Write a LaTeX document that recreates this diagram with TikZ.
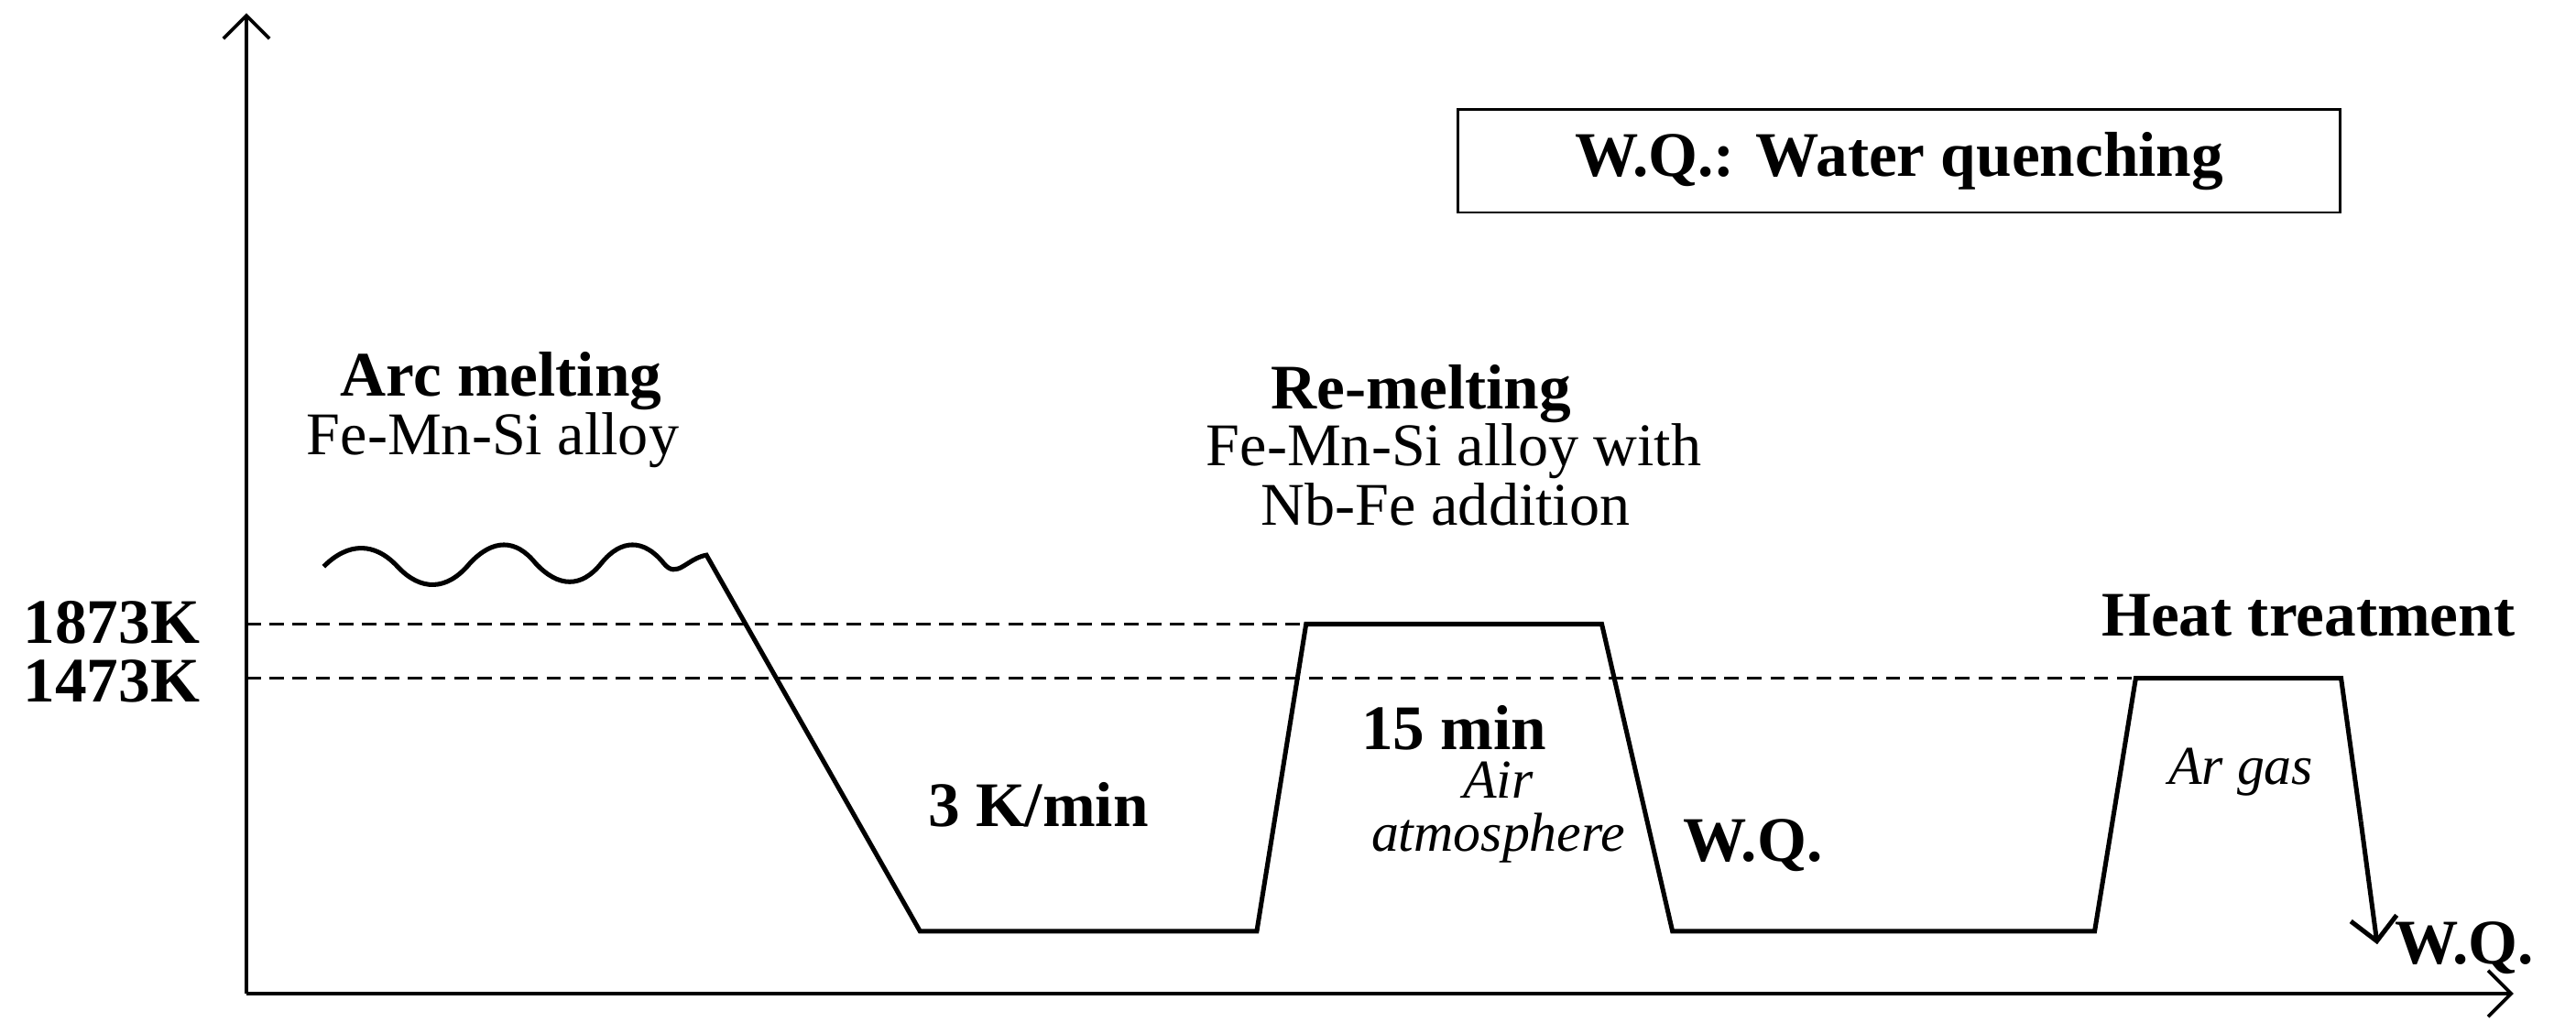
\documentclass[tikz,border=0pt]{standalone}
\usepackage{fontspec}
\setmainfont{Liberation Serif}
\usetikzlibrary{arrows.meta}
\begin{document}
\begin{tikzpicture}[x=0.02cm,y=-0.02cm,
  line/.style={line width=1.6pt},
  ax/.style={line width=1.2pt,-{Straight Barb[length=8pt]}},
  dsh/.style={line width=1pt,dash pattern=on 5pt off 3pt},
  t/.style={font=\fontsize{21}{25}\selectfont},
  b/.style={font=\fontsize{22}{26}\selectfont\bfseries},
  i/.style={font=\fontsize{19}{23}\selectfont\itshape}]
\useasboundingbox (0,0) rectangle (1568,622);
\coordinate (o) at (150,605);
\coordinate (ytop) at (150,8);
\coordinate (xend) at (1530,605);
\draw[ax] (o) -- (ytop);
\draw[ax] (o) -- (xend);
\node[b] (k1) at (68,379) {1873K};
\node[b] (k2) at (68,415) {1473K};
\coordinate (d1) at (795,380);
\coordinate (d2) at (1300,413);
\draw[dsh] (150,380) -- (d1);
\draw[dsh] (150,413) -- (d2);
\draw[line] (197,345) .. controls (212,330) and (228,330) .. (242,345)
  .. controls (256,360) and (272,360) .. (286,343)
  .. controls (300,328) and (314,328) .. (326,343)
  .. controls (340,358) and (354,358) .. (366,343)
  .. controls (378,328) and (392,328) .. (404,343)
  .. controls (412,353) and (418,340) .. (430,338)
  -- (560,567) -- (765,567) -- (795,380) -- (975,380) -- (1018,567) -- (1275,567) -- (1300,413) -- (1425,413) -- (1437,500);
\draw[line,-{Straight Barb[length=8pt]}] (1437,500) -- (1447,575);
\node[b] (a1) at (305,232) {Arc melting};
\node[t] (a2) at (300,268) {Fe-Mn-Si alloy};
\node[b] (r1) at (865,240) {Re-melting};
\node[t] (r2) at (885,275) {Fe-Mn-Si alloy with};
\node[t] (r3) at (880,307) {Nb-Fe addition};
\node[b] (h) at (1405,375) {Heat treatment};
\node[b] (k) at (632,490) {3 K/min};
\node[b] (m) at (885,443) {15 min};
\node[i] (air1) at (912,475) {Air};
\node[i] (air2) at (912,510) {atmosphere};
\node[b] (w1) at (1067,515) {W.Q.};
\node[b] (w2) at (1500,577) {W.Q.};
\node[i] (ar) at (1364,470) {Ar gas};
\node[draw,line width=0.8pt,minimum width=10.74cm,minimum height=1.26cm,inner sep=0pt] (box) at (1156,98) {};
\node[b] at (box) {W.Q.: Water quenching};
\end{tikzpicture}
\end{document}
